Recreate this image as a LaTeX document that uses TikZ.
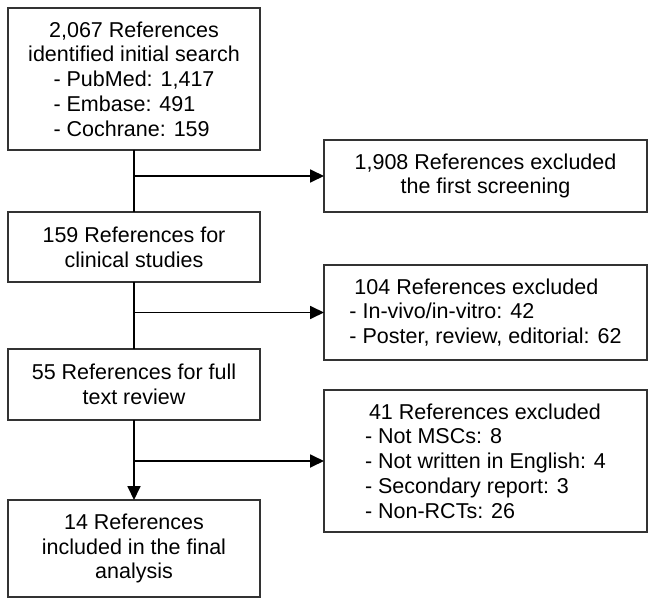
\documentclass[tikz,border=0pt]{standalone}
\usepackage{fontspec}
\setmainfont{Liberation Sans}
\usepackage{calc}
\usetikzlibrary{arrows.meta}
\begin{document}
\begin{tikzpicture}[x=1pt,y=-1pt,
  box/.style={draw=black!80,line width=1.8pt,fill=white,inner sep=0pt,outer sep=0pt,
    font=\fontsize{21.5}{24.7}\selectfont},
  lbox/.style={box,minimum width=252pt},
  rbox/.style={box,minimum width=323pt},
  link/.style={line width=1.8pt,draw=black},
  arr/.style={link,-{Triangle[length=14pt,width=13pt]}}]
\useasboundingbox (0,0) rectangle (656,607);
\node[lbox,minimum height=142pt,align=center] (b1) at (134,79)
  {2,067 References\\identified initial search\\
   \makebox[\widthof{- PubMed: 1,417}][l]{- PubMed: 1,417}\\
   \makebox[\widthof{- PubMed: 1,417}][l]{- Embase: 491}\\
   \makebox[\widthof{- PubMed: 1,417}][l]{- Cochrane: 159}};
\node[rbox,minimum height=72pt,align=center] (b2) at (485.5,176)
  {1,908 References excluded\\the first screening};
\node[lbox,minimum height=70pt,align=center] (b3) at (134,247)
  {159 References for\\clinical studies};
\node[rbox,minimum height=95pt,align=left] (b4) at (485.5,312.5)
  {\hspace{5pt}104 References excluded\\- In-vivo/in-vitro: 42\\- Poster, review, editorial: 62};
\node[lbox,minimum height=71pt,align=center] (b5) at (134,384.5)
  {55 References for full\\text review};
\node[rbox,minimum height=142pt,align=left] (b6) at (485.5,461)
  {\hspace{4pt}41 References excluded\\- Not MSCs: 8\\- Not written in English: 4\\- Secondary report: 3\\- Non-RCTs: 26};
\node[lbox,minimum height=97pt,align=center] (b7) at (134,548.5)
  {14 References\\included in the final\\analysis};
\draw[link] (b1.south) -- (b3.north);
\draw[link] (b3.south) -- (b5.north);
\draw[arr] (b5.south) -- (b7.north);
\draw[arr] (b1.south |- b2.west) -- (b2.west);
\draw[arr] (b3.south |- b4.west) -- (b4.west);
\draw[arr] (b5.south |- b6.west) -- (b6.west);
\end{tikzpicture}
\end{document}
